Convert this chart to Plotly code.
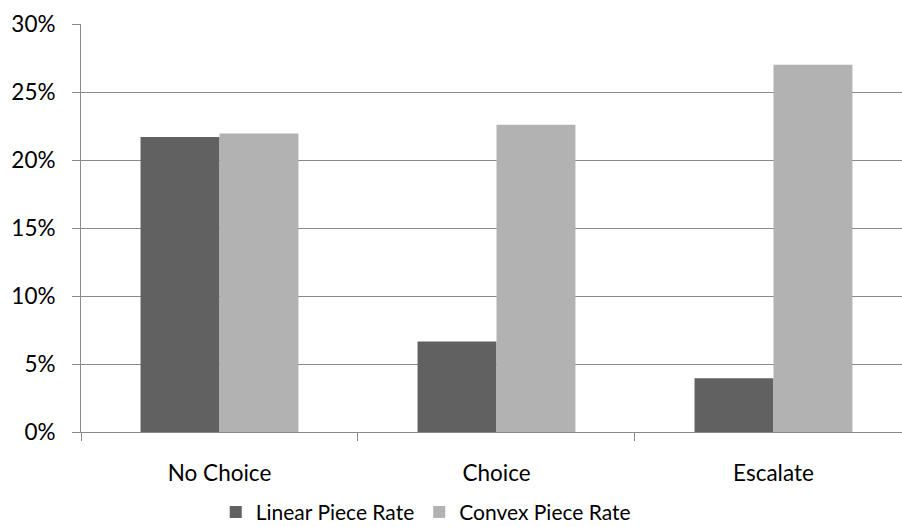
import plotly.graph_objects as go

# Share of participants, by treatment and piece-rate scheme (percent)
categories = ["No Choice", "Choice", "Escalate"]
linear_rate = [21.7, 6.65, 3.95]
convex_rate = [21.95, 22.6, 27.0]
y_ticks = [0, 5, 10, 15, 20, 25, 30]
y_tick_labels = ["0%", "5%", "10%", "15%", "20%", "25%", "30%"]

AXIS_GRAY = "#8a8a8a"
FONT = "Lato"
FONT_SIZE = 22.5
LEGEND_SIZE = 21

fig = go.Figure()
fig.add_trace(go.Bar(
    x=categories, y=linear_rate, name="Linear Piece Rate",
    marker=dict(color="#616161", line=dict(width=0)),
))
fig.add_trace(go.Bar(
    x=categories, y=convex_rate, name="Convex Piece Rate",
    marker=dict(color="#b2b2b2", line=dict(width=0)),
))

fig.update_layout(
    width=902, height=527,
    margin=dict(l=81, r=0, t=24, b=95, autoexpand=False),
    paper_bgcolor="white", plot_bgcolor="white",
    barmode="group", bargap=0.43, bargroupgap=0,
    font=dict(family=FONT, size=FONT_SIZE, color="#000000"),
    showlegend=True,
    legend=dict(
        orientation="h",
        xref="container", x=0.472, xanchor="center",
        yref="container", y=0.028, yanchor="middle",
        font=dict(family=FONT, size=LEGEND_SIZE, color="#000000"),
        bgcolor="rgba(0,0,0,0)", itemclick=False,
        tracegroupgap=0, itemwidth=30,
    ),
)

fig.update_xaxes(
    type="category", range=[-0.5, 2.464], automargin=False,
    showline=True, linecolor=AXIS_GRAY, linewidth=1,
    ticks="outside", tickson="boundaries", ticklen=8, tickcolor=AXIS_GRAY,
    showgrid=False, ticklabelstandoff=21,
    tickfont=dict(family=FONT, size=FONT_SIZE, color="#000000"),
)
fig.update_yaxes(
    range=[0, 30], tickmode="array", tickvals=y_ticks, ticktext=y_tick_labels,
    automargin=False,
    showline=True, linecolor=AXIS_GRAY, linewidth=1,
    ticks="outside", ticklen=8, tickcolor=AXIS_GRAY,
    showgrid=True, gridcolor=AXIS_GRAY, gridwidth=1, zeroline=False,
    ticklabelstandoff=12,
    tickfont=dict(family=FONT, size=FONT_SIZE, color="#000000"),
)

fig.write_html("out.html")
